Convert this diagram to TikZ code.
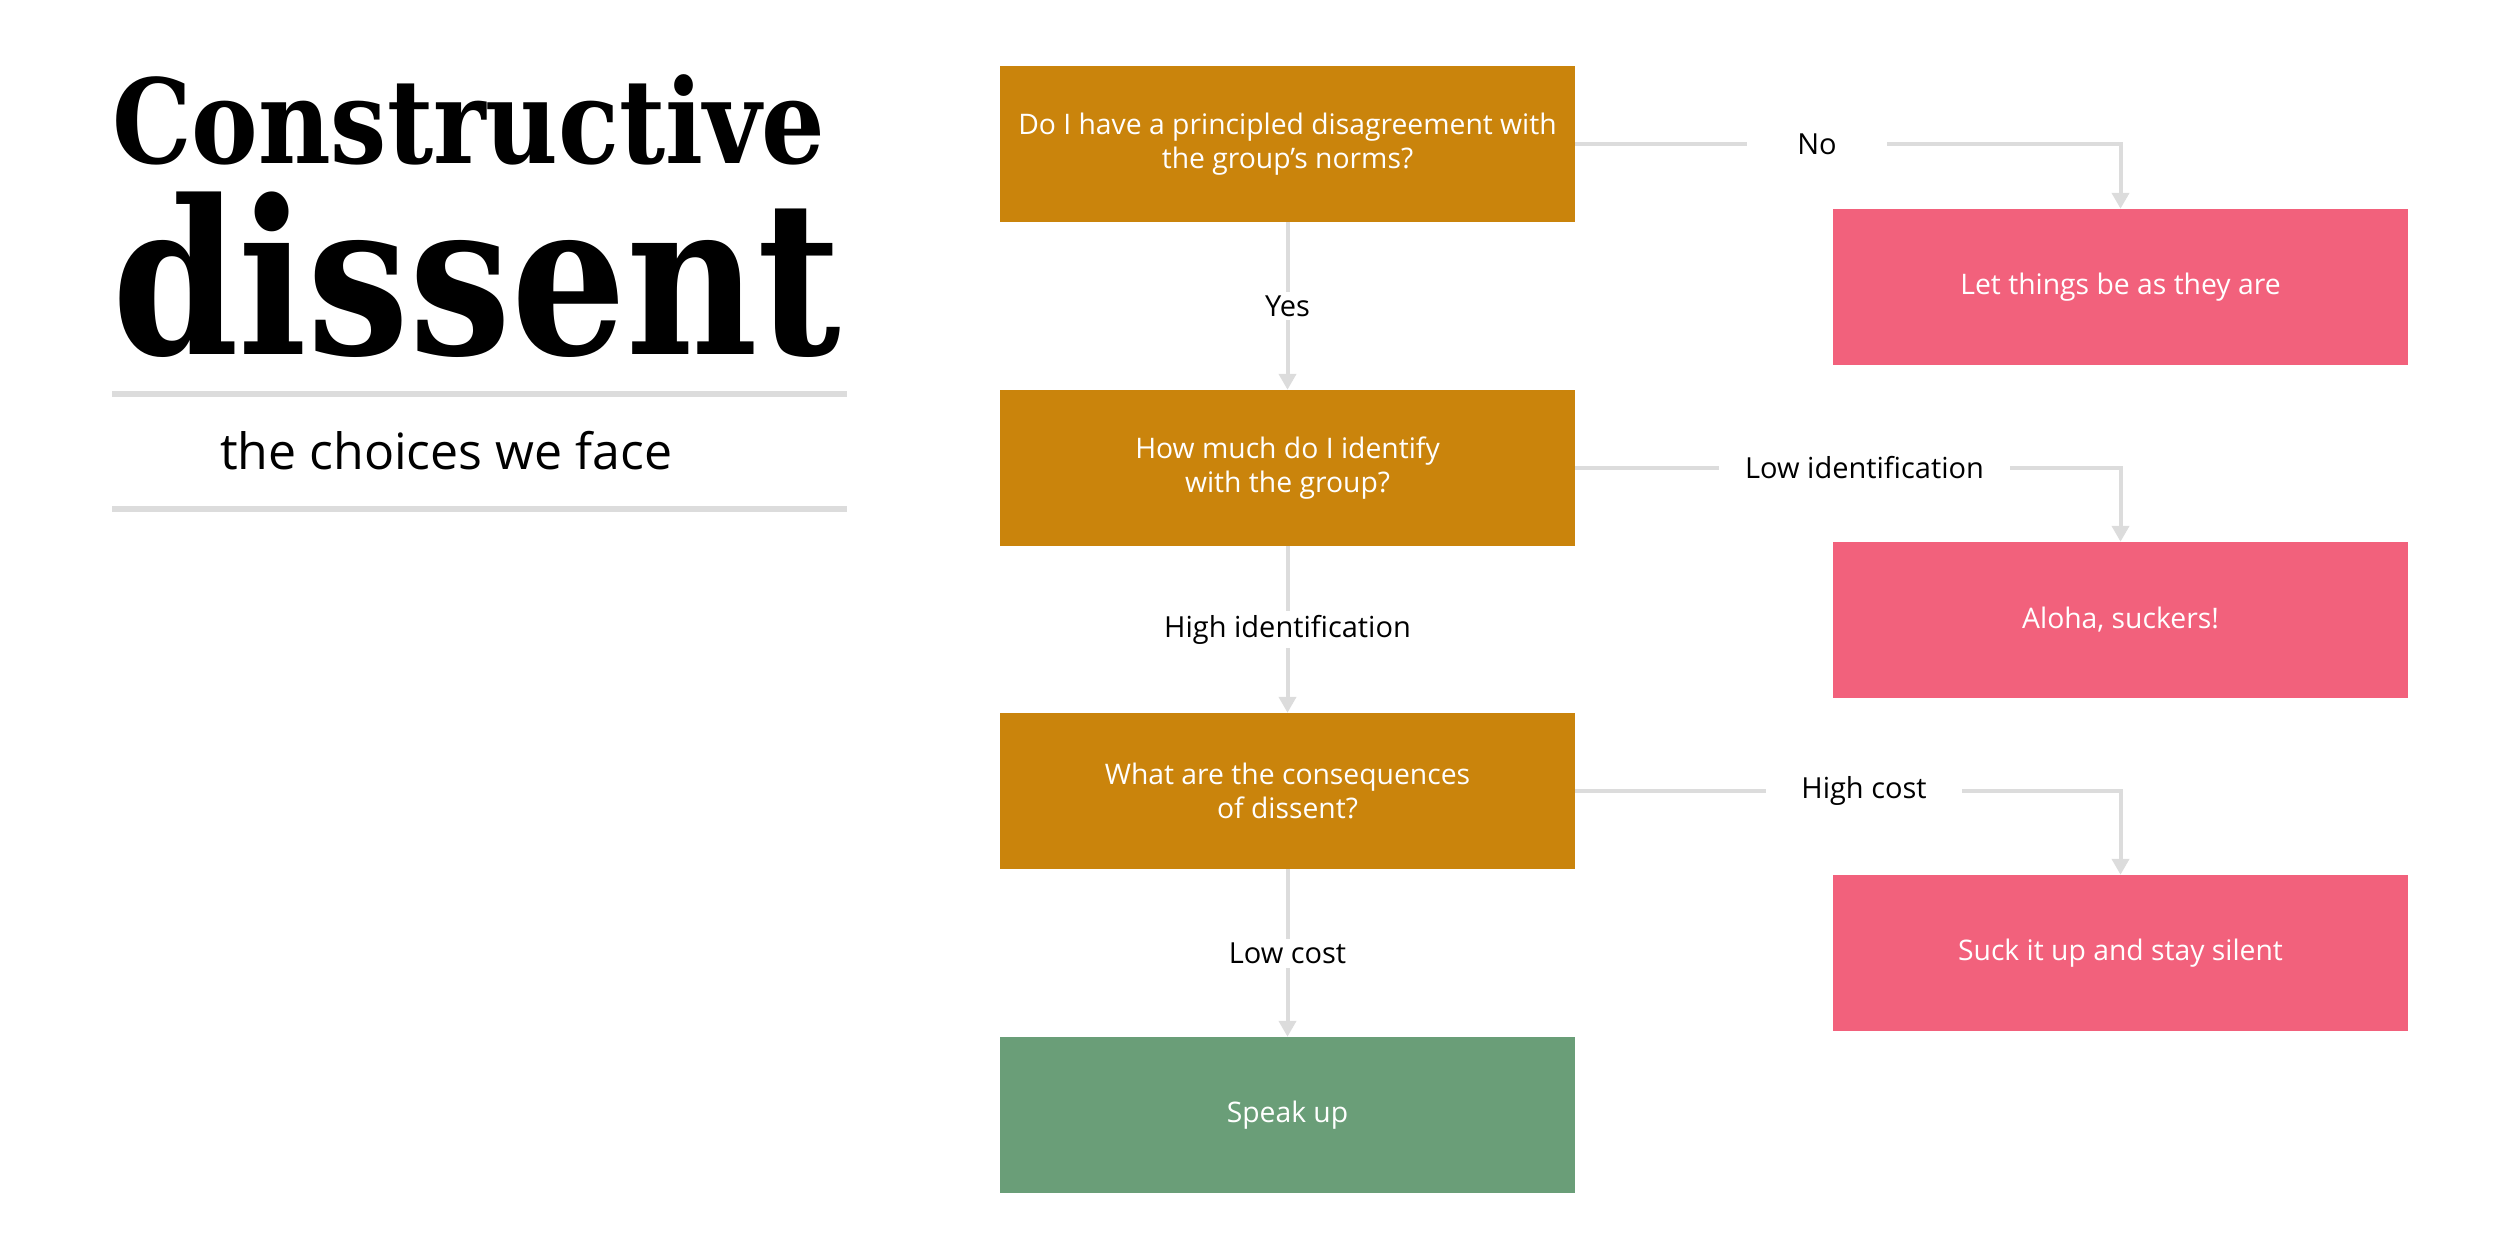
\documentclass[tikz,border=0pt]{standalone}
\usepackage{fontspec}
\setmainfont{Open Sans}
\newfontfamily\slabfont{DejaVu Serif Condensed}
\usepackage{xcolor}
\usetikzlibrary{positioning, calc, arrows.meta}
\definecolor{askorange}{HTML}{CA840C}
\definecolor{badpink}{HTML}{F2617C}
\definecolor{goodgreen}{HTML}{6A9E78}
\definecolor{linegray}{HTML}{DCDCDC}

\tikzset{
  box/.style={minimum width=575pt, minimum height=156pt, inner sep=0pt, align=center,
    text=white, font=\fontsize{28.3}{34}\selectfont},
  question/.style={box, fill=askorange},
  outcome/.style={box, fill=badpink},
  action/.style={box, fill=goodgreen},
  link/.style={draw=linegray, line width=4pt},
  flow/.style={link, -{Triangle[width=17pt,length=16pt]}},
  answer/.style={fill=white, inner xsep=0pt, inner ysep=4pt, font=\fontsize{29}{35}\selectfont},
}

\begin{document}
\begin{tikzpicture}[x=1pt, y=-1pt]
        \useasboundingbox (0,0) rectangle (2500,1242);

        % title block
        \node[anchor=base west, inner sep=0pt, font=\slabfont\bfseries\fontsize{117}{117}\selectfont] (head1) at (112,163) {\scalebox{0.949}[1]{Constructive}};
        \node[anchor=base west, inner sep=0pt, font=\slabfont\bfseries\fontsize{214}{214}\selectfont] (head2) at (112,354) {\scalebox{0.94}[1]{dissent}};
        \draw[linegray, line width=6pt] (112,394) -- (847,394);
        \node[anchor=base west, inner sep=0pt, font=\fontsize{50}{50}\selectfont] (sub) at (220,469) {the choices we face};
        \draw[linegray, line width=6pt] (112,508.5) -- (847,508.5);

        % questions
        \node[question] (q1) at (1287.5,144) {Do I have a principled disagreement with\\the group’s norms?};
        \node[question] (q2) at (1287.5,468) {How much do I identify\\with the group?};
        \node[question] (q3) at (1287.5,791) {What are the consequences\\of dissent?};
        \node[action] (speak) at (1287.5,1115) {Speak up};

        % outcomes
        \node[outcome] (o1) at (2120.5,287) {Let things be as they are};
        \node[outcome] (o2) at (2120.5,620) {Aloha, suckers!};
        \node[outcome] (o3) at (2120.5,953) {Suck it up and stay silent};

        % down the left
        \draw[flow] (q1) -- node[answer] {Yes} (q2);
        \draw[flow] (q2) -- node[answer] {High identification} (q3);
        \draw[flow] (q3) -- node[answer] {Low cost} (speak);

        % out to the right
        \node[answer, minimum width=140pt] (a1) at (1817,144) {No};
        \node[answer, minimum width=291pt] (a2) at (1864.5,468) {Low identification};
        \node[answer, minimum width=196pt] (a3) at (1864,791) {High cost};
        \draw[link] (q1) -- (a1);
        \draw[flow] (a1) -| (o1);
        \draw[link] (q2) -- (a2);
        \draw[flow] (a2) -| (o2);
        \draw[link] (q3) -- (a3);
        \draw[flow] (a3) -| (o3);
    \end{tikzpicture}
\end{document}
